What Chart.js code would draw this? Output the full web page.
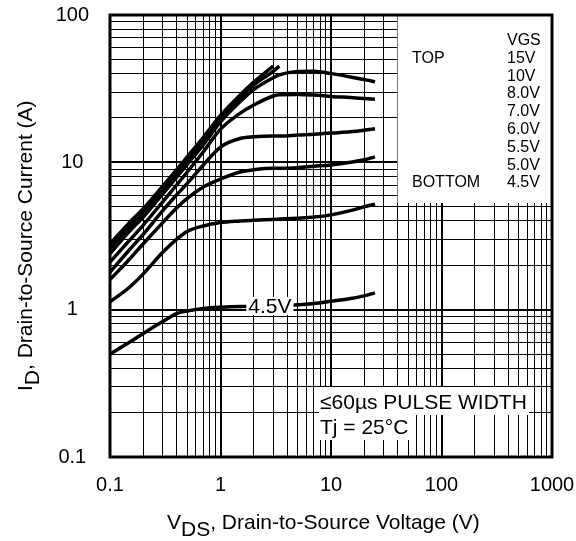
<!DOCTYPE html>
<html lang="en">

<head>
    <meta charset="UTF-8">
    <meta name="viewport" content="width=device-width, initial-scale=1.0">
    <style>
        html, body {
            margin: 0;
            padding: 0;
            background: #fff;
        }

        #wrap {
            position: relative;
            width: 576px;
            height: 541px;
        }
    </style>
    <title>Typical Output Characteristics</title>
</head>

<body>
    <div id="wrap"><canvas id="myChart"></canvas></div>

    <script src="https://cdn.jsdelivr.net/npm/chart.js"></script>
    <script>
        // drain-source voltage (V) shared by all curves
        var vds = [0.1, 0.15, 0.2, 0.3, 0.4, 0.5, 0.7, 1, 1.5, 2, 3, 3.4, 5, 7, 10, 15, 20, 25];

        // drain current (A) for each gate voltage, null where the curve stops
        var id15V = [2.8, 3.9, 4.85, 6.9, 8.9, 10.9, 14.8, 20.8, 28.5, 35, 45, null, null, null, null, null, null, null];
        var id10V = [2.6, 3.65, 4.55, 6.5, 8.4, 10.3, 14.0, 19.8, 27.3, 33.5, 41.5, 45, null, null, null, null, null, null];
        var id8V = [2.4, 3.4, 4.25, 6.1, 7.9, 9.7, 13.2, 18.8, 25.8, 31.2, 37.5, 39.2, 41.3, 41.5, 40, 38, 36.5, 35.2];
        var id7V = [2.1, 2.95, 3.75, 5.4, 7.0, 8.6, 11.8, 16.8, 21.5, 24.5, 28.2, 28.8, 28.9, 28.6, 28.0, 27.5, 27.1, 26.8];
        var id6V = [1.8, 2.55, 3.25, 4.7, 6.0, 7.2, 9.6, 12.7, 14.5, 14.9, 15.1, 15.1, 15.3, 15.5, 15.8, 16.1, 16.5, 16.9];
        var id5_5V = [1.6, 2.2, 2.8, 3.9, 4.9, 5.7, 6.8, 7.7, 8.6, 8.9, 9.1, 9.1, 9.2, 9.4, 9.6, 10.0, 10.4, 10.9];
        var id5V = [1.13, 1.42, 1.75, 2.45, 3.0, 3.4, 3.7, 3.9, 4.0, 4.05, 4.1, 4.12, 4.18, 4.25, 4.4, 4.7, 5.0, 5.2];
        var id4_5V = [0.5, 0.6, 0.69, 0.83, 0.94, 0.98, 1.02, 1.04, 1.05, 1.05, 1.06, 1.06, 1.08, 1.1, 1.14, 1.19, 1.24, 1.3];

        var gateLabels = ['15V', '10V', '8.0V', '7.0V', '6.0V', '5.5V', '5.0V', '4.5V'];
        var xTickLabels = ['0.1', '1', '10', '100', '1000'];
        var yTickLabels = ['0.1', '1', '10', '100'];

        var curves = [id15V, id10V, id8V, id7V, id6V, id5_5V, id5V, id4_5V];
        var fontFamily = '"Liberation Sans", Arial, Helvetica, sans-serif';

        function isDecade(v) {
            var e = Math.log10(v);
            return Math.abs(e - Math.round(e)) < 1e-6;
        }

        // grid lines at 1..9 of every decade
        function logGrid(lo, hi) {
            var t = [];
            for (var e = lo; e < hi; e++) {
                for (var m = 1; m < 10; m++) {
                    t.push({ value: Number((m * Math.pow(10, e)).toPrecision(3)) });
                }
            }
            t.push({ value: Math.pow(10, hi) });
            return t;
        }

        var datasets = gateLabels.map(function (lab, i) {
            var pts = [];
            vds.forEach(function (v, j) {
                if (curves[i][j] !== null) pts.push({ x: v, y: curves[i][j] });
            });
            return {
                label: lab,
                data: pts,
                borderColor: '#000',
                borderWidth: 3.5,
                pointRadius: 0,
                fill: false,
                cubicInterpolationMode: 'monotone'
            };
        });

        var overlay = {
            id: 'overlay',
            beforeDatasetsDraw: function (chart) {
                var ctx = chart.ctx, a = chart.chartArea;
                var x = chart.scales.x, y = chart.scales.y;
                ctx.save();
                ctx.fillStyle = '#fff';

                // legend panel in the upper right corner
                var lx = x.getPixelForValue(40);
                var by = y.getPixelForValue(5.3);
                ctx.fillRect(lx, a.top, a.right - lx, by - a.top);

                // test conditions note
                ctx.font = '21px ' + fontFamily;
                var nx = a.left + 210;
                var w1 = ctx.measureText('\u226460\u00b5s PULSE WIDTH').width;
                var w2 = ctx.measureText('Tj = 25\u00b0C').width;
                ctx.fillRect(nx - 1, a.bottom - 70, w1 + 3, 28);
                ctx.fillRect(nx - 1, a.bottom - 42, w2 + 3, 25);
                ctx.fillStyle = '#000';
                ctx.textBaseline = 'alphabetic';
                ctx.fillText('\u226460\u00b5s PULSE WIDTH', nx, a.bottom - 48);
                ctx.fillText('Tj = 25\u00b0C', nx, a.bottom - 23);

                // legend text
                ctx.font = '16px ' + fontFamily;
                var col = a.right - 45;
                var row0 = a.top + 30;
                ctx.fillText('VGS', col, row0);
                gateLabels.forEach(function (lab, i) {
                    ctx.fillText(lab, col, row0 + 17.8 * (i + 1));
                });
                ctx.fillText('TOP', a.left + 302, row0 + 17.8);
                ctx.fillText('BOTTOM', a.left + 302, row0 + 17.8 * 8);
                ctx.restore();
            },
            afterDatasetsDraw: function (chart) {
                var ctx = chart.ctx, a = chart.chartArea;
                var x = chart.scales.x, y = chart.scales.y;
                ctx.save();

                // curve label on the lowest gate voltage
                ctx.font = '21px ' + fontFamily;
                var t = gateLabels[7];
                var tw = ctx.measureText(t).width;
                var cx = x.getPixelForValue(2.8), cy = y.getPixelForValue(1.06);
                ctx.fillStyle = '#fff';
                ctx.fillRect(cx - tw / 2 - 2, cy - 9, tw + 4, 18);
                ctx.fillStyle = '#000';
                ctx.textAlign = 'center';
                ctx.textBaseline = 'middle';
                ctx.fillText(t, cx, cy + 1);

                // plot frame
                ctx.strokeStyle = '#000';
                ctx.lineWidth = 3;
                ctx.strokeRect(a.left, a.top, a.right - a.left, a.bottom - a.top);
                ctx.restore();
            },
            afterDraw: function (chart) {
                var ctx = chart.ctx;
                ctx.save();
                ctx.fillStyle = '#000';
                ctx.textBaseline = 'alphabetic';
                ctx.textAlign = 'left';

                // x axis title with subscript
                ctx.font = '21px ' + fontFamily;
                var px = 167;
                ctx.fillText('V', px, 529);
                px += ctx.measureText('V').width;
                ctx.fillText('DS', px, 536);
                px += ctx.measureText('DS').width;
                ctx.fillText(', Drain-to-Source Voltage (V)', px, 529);

                // y axis title, rotated
                ctx.translate(32, 391);
                ctx.rotate(-Math.PI / 2);
                var py = 0;
                ctx.fillText('I', py, 0);
                py += ctx.measureText('I').width;
                ctx.fillText('D', py, 7);
                py += ctx.measureText('D').width;
                ctx.fillText(', Drain-to-Source Current (A)', py, 0);
                ctx.restore();
            }
        };

        function tickFor(labels) {
            return function (value) {
                if (!isDecade(value)) return '';
                return labels[Math.round(Math.log10(value)) + 1];
            };
        }

        function gridStyle() {
            return {
                color: '#000',
                lineWidth: function (c) {
                    return c.tick && isDecade(c.tick.value) ? 2 : 1;
                },
                drawTicks: false
            };
        }

        var ctx = document.getElementById('myChart').getContext('2d');
        var myChart = new Chart(ctx, {
            type: 'line',
            data: { datasets: datasets },
            options: {
                responsive: true,
                maintainAspectRatio: false,
                animation: false,
                devicePixelRatio: 1,
                layout: { padding: { left: 0, top: 15, right: 24, bottom: 0 } },
                plugins: {
                    legend: { display: false },
                    tooltip: { enabled: false }
                },
                scales: {
                    x: {
                        type: 'logarithmic',
                        min: 0.1,
                        max: 1000,
                        grid: gridStyle(),
                        border: { display: false },
                        afterBuildTicks: function (s) { s.ticks = logGrid(-1, 3); },
                        afterFit: function (s) {
                            s.height = 84;
                            s.paddingLeft = 0;
                            s.paddingRight = 0;
                        },
                        ticks: {
                            autoSkip: false,
                            maxRotation: 0,
                            padding: 16,
                            color: '#000',
                            font: { size: 20, family: fontFamily },
                            callback: tickFor(xTickLabels)
                        }
                    },
                    y: {
                        type: 'logarithmic',
                        min: 0.1,
                        max: 100,
                        grid: gridStyle(),
                        border: { display: false },
                        afterBuildTicks: function (s) { s.ticks = logGrid(-1, 2); },
                        afterFit: function (s) {
                            s.width = 110;
                            s.paddingTop = 0;
                            s.paddingBottom = 0;
                        },
                        ticks: {
                            autoSkip: false,
                            padding: 21,
                            crossAlign: 'center',
                            color: '#000',
                            font: { size: 20, family: fontFamily },
                            callback: tickFor(yTickLabels)
                        }
                    }
                }
            },
            plugins: [overlay]
        });
    </script>
</body>

</html>
